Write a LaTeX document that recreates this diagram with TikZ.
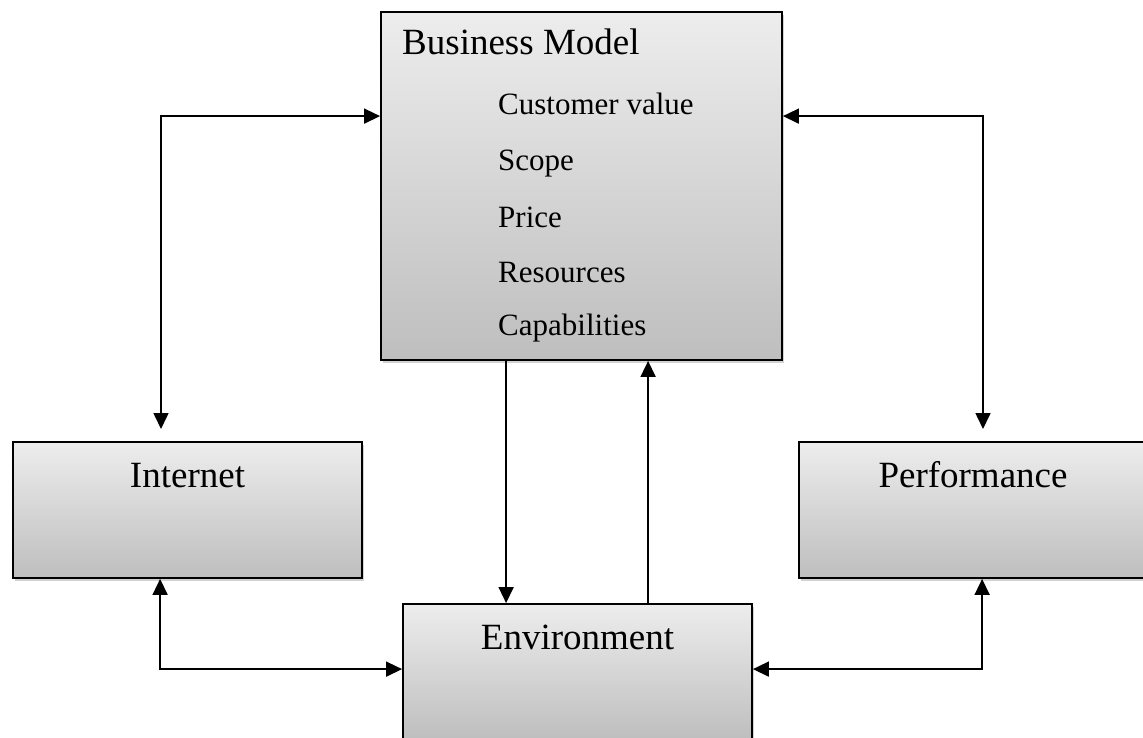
\documentclass[tikz,border=0pt]{standalone}
\usepackage{fontspec}
\setmainfont{Liberation Serif}
\usetikzlibrary{arrows.meta,shadows}
\definecolor{boxtop}{RGB}{237,237,237}
\definecolor{boxbot}{RGB}{190,190,190}
\tikzset{
  box/.style={draw=black, line width=1.8pt, rectangle, inner sep=0pt,
    top color=boxtop, bottom color=boxbot,
    drop shadow={shadow xshift=2pt, shadow yshift=-3pt, opacity=0.35, fill=gray}},
  bigtxt/.style={font=\fontsize{37}{44}\selectfont, inner sep=0pt},
  smalltxt/.style={font=\fontsize{31}{37}\selectfont, inner sep=0pt, anchor=base west},
  arr/.style={line width=1.6pt, -{Triangle[length=16pt,width=15pt]}},
  arrb/.style={line width=1.6pt, {Triangle[length=16pt,width=15pt]}-{Triangle[length=16pt,width=15pt]}}
}
\begin{document}
\begin{tikzpicture}[x=1pt,y=-1pt]
\path[use as bounding box, clip] (0,0) rectangle (1143,738);
\fill[white] (0,0) rectangle (1143,738);
% boxes
\node[box, minimum width=401pt, minimum height=348pt] (bm) at (581.5,186) {};
\node[box, minimum width=349pt, minimum height=136pt] (int) at (187.5,510) {};
\node[box, minimum width=348pt, minimum height=136pt] (perf) at (973,510) {};
\node[box, minimum width=349pt, minimum height=136pt] (env) at (577.5,672) {};
% texts
\node[bigtxt, anchor=base west] (bmt) at (402,55) {Business Model};
\node[smalltxt] (i1) at (498,115) {Customer value};
\node[smalltxt] (i2) at (498,171) {Scope};
\node[smalltxt] (i3) at (498,227) {Price};
\node[smalltxt] (i4) at (498,282) {Resources};
\node[smalltxt] (i5) at (498,335) {Capabilities};
\node[bigtxt, anchor=base] (intt) at (187.5,487) {Internet};
\node[bigtxt, anchor=base] (perft) at (973,487) {Performance};
\node[bigtxt, anchor=base] (envt) at (577.5,649) {Environment};
% free ends
\coordinate (a1) at (161,429);
\coordinate (a2) at (983,429);
% connectors
\draw[arrb] (a1) |- ([yshift=-105pt]bm.north west);
\draw[arrb] (a2) |- ([yshift=-105pt]bm.north east);
\draw[arr] ([xshift=126pt]bm.south west) -- ([xshift=104pt]env.north west);
\draw[arr] ([xshift=246pt]env.north west) -- ([xshift=268pt]bm.south west);
\draw[arrb] ([xshift=148pt]int.south west) |- ([yshift=-66pt]env.north west);
\draw[arrb] ([xshift=184pt]perf.south west) |- ([yshift=-66pt]env.north east);
\end{tikzpicture}
\end{document}
